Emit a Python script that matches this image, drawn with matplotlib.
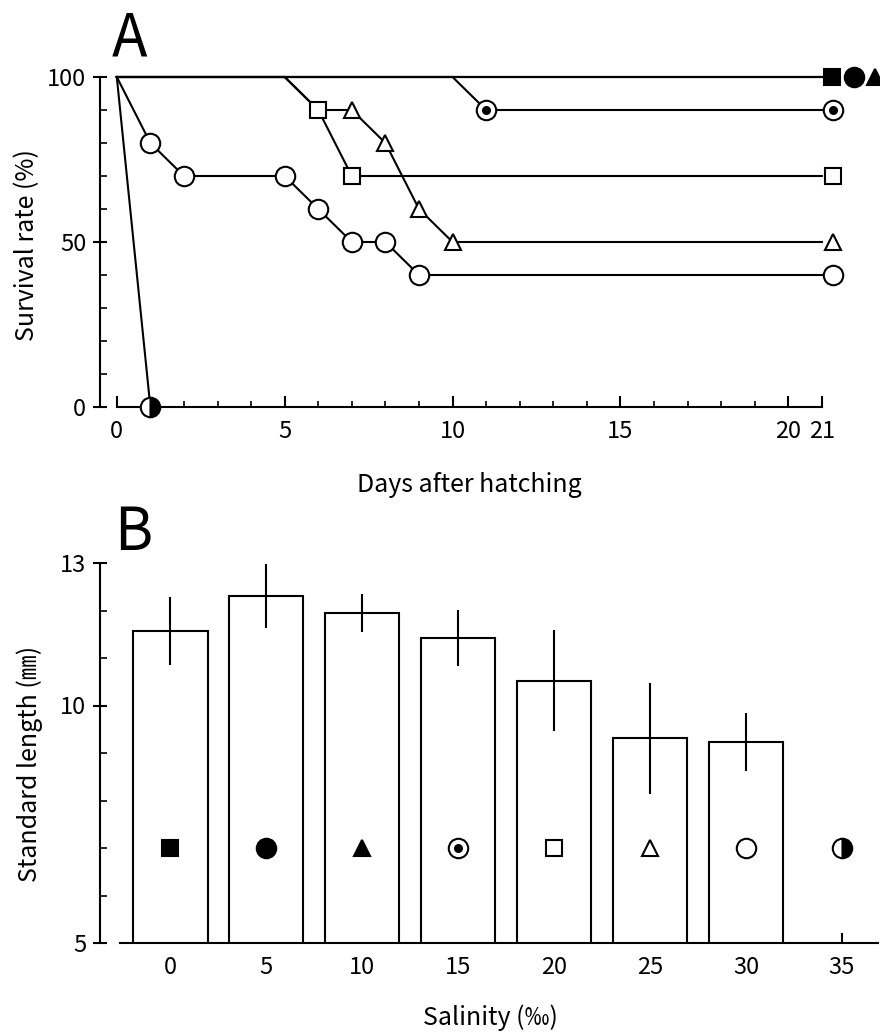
import matplotlib
matplotlib.use("Agg")
import matplotlib.pyplot as plt
from matplotlib.ticker import MultipleLocator, FixedLocator
from matplotlib.transforms import offset_copy

plt.rcParams['font.family'] = ['Noto Sans CJK JP', 'DejaVu Sans']

# salinity groups (per mille)
salinity = [0, 5, 10, 15, 20, 25, 30, 35]

# A: survival rate (%) against days after hatching, one curve per salinity
surv_days = {
    0: [0, 21], 5: [0, 21], 10: [0, 21],
    15: [0, 10, 11, 21],
    20: [0, 5, 6, 7, 21],
    25: [0, 5, 6, 7, 8, 9, 10, 21],
    30: [0, 1, 2, 5, 6, 7, 8, 9, 21],
    35: [0, 1],
}
surv_rate = {
    0: [100, 100], 5: [100, 100], 10: [100, 100],
    15: [100, 100, 90, 90],
    20: [100, 100, 90, 70, 70],
    25: [100, 100, 90, 90, 80, 60, 50, 50],
    30: [100, 80, 70, 70, 60, 50, 50, 40, 40],
    35: [100, 0],
}
# points whose symbol is covered by another curve's symbol
hidden = {25: [6]}

# B: standard length (mm) at day 21, mean and SD (no survivors at 35)
length_sal = [0, 5, 10, 15, 20, 25, 30]
length_mean = [11.57, 12.31, 11.95, 11.42, 10.52, 9.31, 9.23]
length_sd = [0.72, 0.67, 0.40, 0.59, 1.06, 1.17, 0.61]

# symbol for each salinity: marker, face, size
sym = {
    0: ('s', 'black', 11),
    5: ('o', 'black', 14),
    10: ('^', 'black', 11),
    15: ('o', 'dot', 14),
    20: ('s', 'white', 11),
    25: ('^', 'white', 12),
    30: ('o', 'white', 14),
    35: ('o', 'half', 14),
}


def put_symbol(ax, x, y, s, transform=None):
    m, face, ms = sym[s]
    kw = dict(ls='none', marker=m, ms=ms, mec='black', mew=1.5, clip_on=False, zorder=5)
    if transform is not None:
        kw['transform'] = transform
    if face == 'half':
        ax.plot(x, y, fillstyle='right', mfc='black', mfcalt='white', **kw)
    elif face == 'dot':
        ax.plot(x, y, mfc='white', **kw)
        kw.update(ms=6.5, mew=0, zorder=6)
        ax.plot(x, y, mfc='black', **kw)
    else:
        ax.plot(x, y, mfc=face, **kw)


fig = plt.figure(figsize=(8.8, 10.34), dpi=100)

# ---------------- A ----------------
axA = fig.add_axes([100 / 880, 1 - 407 / 1034, 780 / 880, 330 / 1034])
axA.set_xlim(-0.5, 22.73)
axA.set_ylim(0, 100)

end_shift = {0: 10, 5: 32, 10: 53, 15: 11, 20: 11, 25: 11, 30: 11}
for s in salinity:
    d, r = surv_days[s], surv_rate[s]
    axA.plot(d, r, color='black', lw=1.5, clip_on=False, zorder=3)
    for di, ri in zip(d, r):
        if di == 21:
            tr = offset_copy(axA.transData, fig=fig, x=end_shift[s], y=0, units='dots')
            put_symbol(axA, di, ri, s, transform=tr)
        elif ri < 100 and di not in hidden.get(s, []):
            put_symbol(axA, di, ri, s)

for side in ['top', 'right']:
    axA.spines[side].set_visible(False)
axA.spines['left'].set_bounds(0, 100)
axA.spines['bottom'].set_bounds(0, 21)
for side in ['left', 'bottom']:
    axA.spines[side].set_linewidth(1.5)

axA.set_xticks([0, 5, 10, 15, 20, 21])
axA.xaxis.set_minor_locator(FixedLocator(range(0, 21)))
axA.set_yticks([0, 50, 100])
axA.yaxis.set_minor_locator(MultipleLocator(10))
axA.tick_params(axis='x', which='major', direction='in', length=8, width=1.5, pad=9, labelsize=17)
axA.tick_params(axis='x', which='minor', direction='in', length=4, width=1.2)
axA.tick_params(axis='y', which='major', direction='inout', length=10, width=1.5, pad=5, labelsize=17)
axA.tick_params(axis='y', which='minor', direction='in', length=5, width=1.2)

axA.set_xlabel('Days after hatching', fontsize=18, va='center')
axA.xaxis.set_label_coords(0.474, -0.236)
axA.set_ylabel('Survival rate (%)', fontsize=18, va='center')
axA.yaxis.set_label_coords(-0.094, 0.49)
fig.text(112 / 880, 1 - 56 / 1034, 'A', fontsize=42, va='baseline')

# ---------------- B ----------------
axB = fig.add_axes([100 / 880, 1 - 943 / 1034, 780 / 880, 380 / 1034])
axB.set_xlim(-3.65, 36.98)
axB.set_ylim(5, 13)

axB.bar(length_sal, length_mean, width=3.9, color='white', edgecolor='black', linewidth=1.5, zorder=2)
axB.errorbar(length_sal, length_mean, yerr=length_sd, fmt='none', ecolor='black',
             elinewidth=1.5, capsize=0, zorder=3)
for s in salinity:
    put_symbol(axB, s, 7, s)

for side in ['top', 'right']:
    axB.spines[side].set_visible(False)
axB.spines['left'].set_bounds(5, 13)
axB.spines['bottom'].set_bounds(-2.6, 36.9)
for side in ['left', 'bottom']:
    axB.spines[side].set_linewidth(1.5)

axB.set_xticks(salinity)
axB.set_yticks([5, 10, 13])
axB.yaxis.set_minor_locator(MultipleLocator(1))
axB.tick_params(axis='x', which='major', direction='in', length=7, width=1.5, pad=9, labelsize=17)
axB.tick_params(axis='y', which='major', direction='inout', length=10, width=1.5, pad=5, labelsize=17)
axB.tick_params(axis='y', which='minor', direction='in', length=5, width=1.2)

axB.set_xlabel('Salinity (‰)', fontsize=18, va='center')
axB.xaxis.set_label_coords(0.5, -0.197)
axB.set_ylabel('Standard length (㎜)', fontsize=18, va='center')
axB.yaxis.set_label_coords(-0.09, 0.47)
fig.text(114 / 880, 1 - 550 / 1034, 'B', fontsize=42, va='baseline')

fig.savefig('out.png', dpi=100)
